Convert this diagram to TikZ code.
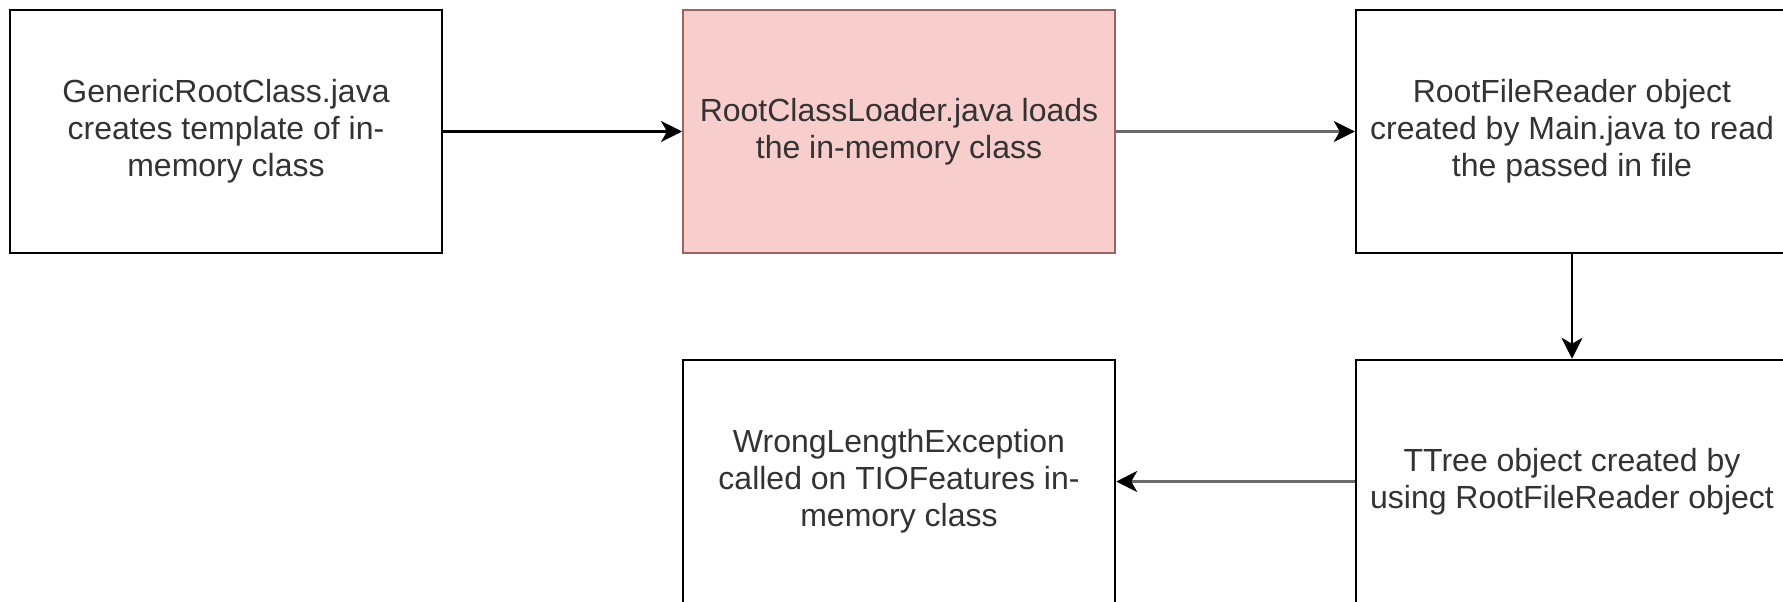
\documentclass[tikz,border=0pt]{standalone}
\usepackage{fontspec}
\setmainfont{Liberation Sans}
\usetikzlibrary{arrows.meta}
\definecolor{txt}{HTML}{333333}
\definecolor{redfill}{HTML}{F8CECC}
\definecolor{reddraw}{HTML}{9E6262}
\definecolor{grayline}{HTML}{6A6A6A}
\tikzset{
  x=1pt, y=-1pt,
  box/.style={draw=black, line width=2.5pt, fill=white, minimum width=432pt, minimum height=243pt,
    inner sep=0pt, align=center, text=txt,
    font=\fontsize{32pt}{37pt}\selectfont},
  redbox/.style={box, fill=redfill, draw=reddraw, line width=2pt},
  arr/.style={line width=2.5pt, draw=black, -{Stealth[length=21pt,width=21pt,inset=6pt]}},
  grayarr/.style={line width=3.5pt, draw=grayline, -{Stealth[length=21pt,width=21pt,inset=6pt,color=black,line width=1pt]}},
}
\begin{document}
\begin{tikzpicture}
\clip (0,0) rectangle (1783,602);
\node[box] (b1) at (226,131.5) {GenericRootClass.java\\creates template of in-\\memory class};
\node[redbox] (b2) at (899,131.5) {RootClassLoader.java loads\\the in-memory class};
\node[box] (b3) at (1572,131.5) {RootFileReader object\\created by Main.java to read\\the passed in file};
\node[box] (b4) at (899,481.5) {WrongLengthException\\called on TIOFeatures in-\\memory class};
\node[box] (b5) at (1572,481.5) {TTree object created by\\using RootFileReader object};
\draw[arr] (b1) -- (b2);
\draw[grayarr] (b2) -- (b3);
\draw[arr] (b3) -- (b5);
\draw[grayarr] (b5) -- (b4);
\end{tikzpicture}
\end{document}
